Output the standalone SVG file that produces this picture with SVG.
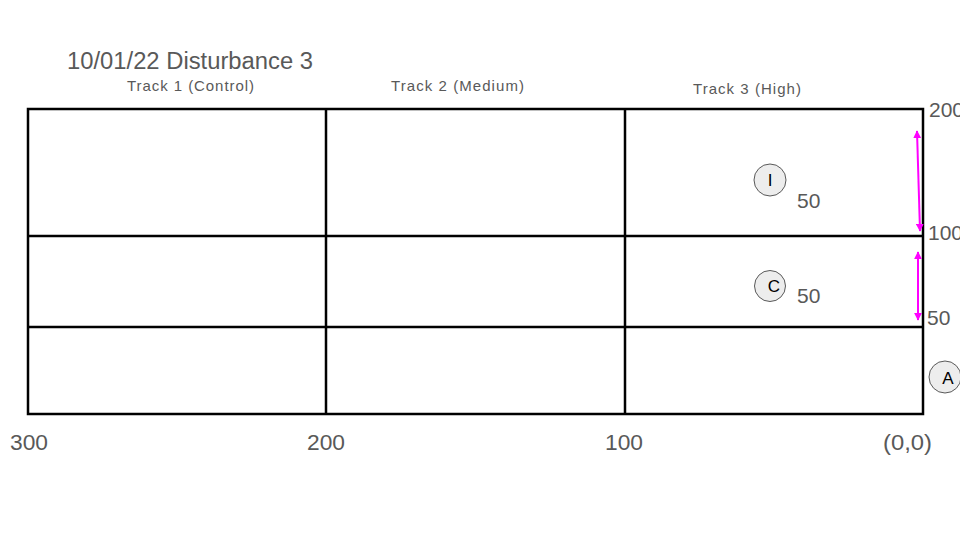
<svg xmlns="http://www.w3.org/2000/svg" width="960" height="540" viewBox="0 0 960 540">
<defs>
<style>
.t{font-family:"Liberation Sans",Arial,sans-serif;fill:#595959}
.g{stroke:#000;stroke-width:2.5;fill:none}
.ar{stroke:#ff00ff;stroke-width:2;fill:none;marker-start:url(#m);marker-end:url(#m)}
.c{fill:#ededed;stroke:#595959;stroke-width:1}
.cl{font-family:"Liberation Sans",Arial,sans-serif;fill:#000;font-size:17px;text-anchor:middle}
</style>
<marker id="m" viewBox="0 0 10 10" refX="9" refY="5" markerWidth="4" markerHeight="4" orient="auto-start-reverse">
<path d="M0,0 L10,5 L0,10 z" fill="#ff00ff"/>
</marker>
</defs>
<rect width="960" height="540" fill="#fff"/>
<g id="grid">
<rect class="g" x="28" y="109" width="895" height="305"/>
<line class="g" x1="28" y1="236" x2="923" y2="236"/>
<line class="g" x1="28" y1="327" x2="923" y2="327"/>
<line class="g" x1="326" y1="109" x2="326" y2="414"/>
<line class="g" x1="625" y1="109" x2="625" y2="414"/>
</g>
<g id="connectors">
<line class="ar" x1="917" y1="131" x2="920" y2="231"/>
<line class="ar" x1="918" y1="252" x2="918" y2="320"/>
</g>
<g id="nodeI"><circle class="c" cx="770" cy="180" r="16"/><text class="cl" x="770" y="186">I</text></g>
<g id="nodeC"><circle class="c" cx="770" cy="286" r="15.5"/><text class="cl" x="774" y="292">C</text></g>
<g id="nodeA"><circle class="c" cx="945" cy="377" r="16"/><text class="cl" x="948" y="384">A</text></g>
<g id="labels">
<text class="t" x="67" y="69" font-size="23" textLength="246" lengthAdjust="spacingAndGlyphs">10/01/22 Disturbance 3</text>
<text class="t" x="127" y="91" font-size="15" textLength="127" lengthAdjust="spacing">Track 1 (Control)</text>
<text class="t" x="391" y="91" font-size="15" textLength="133" lengthAdjust="spacing">Track 2 (Medium)</text>
<text class="t" x="693" y="94" font-size="15" textLength="108" lengthAdjust="spacing">Track 3 (High)</text>
<text class="t" x="797" y="208" font-size="21">50</text>
<text class="t" x="797" y="303" font-size="21">50</text>
<text class="t" x="929" y="117" font-size="21">200</text>
<text class="t" x="928" y="240" font-size="21">100</text>
<text class="t" x="927" y="325" font-size="21">50</text>
<text class="t" x="10" y="450" font-size="22" textLength="38" lengthAdjust="spacingAndGlyphs">300</text>
<text class="t" x="307" y="450" font-size="22" textLength="38" lengthAdjust="spacingAndGlyphs">200</text>
<text class="t" x="605" y="450" font-size="22" textLength="38" lengthAdjust="spacingAndGlyphs">100</text>
<text class="t" x="883" y="450" font-size="22" textLength="49" lengthAdjust="spacingAndGlyphs">(0,0)</text>
</g>
</svg>
